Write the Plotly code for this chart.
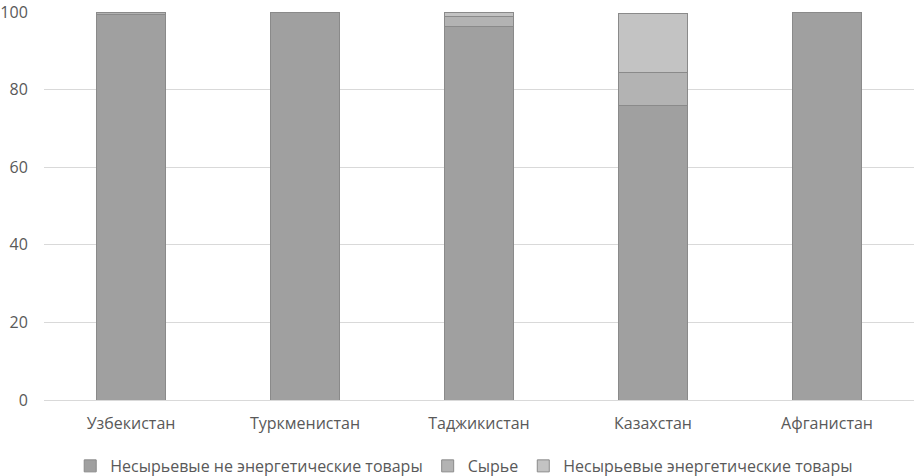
import plotly.graph_objects as go

categories = ["Узбекистан", "Туркменистан", "Таджикистан", "Казахстан", "Афганистан"]
non_energy = [99.3, 99.8, 96.3, 75.9, 99.9]
raw = [0.5, 0.1, 2.5, 8.5, 0.05]
energy = [0.2, 0.05, 1.2, 15.1, 0.05]

series = [
    ("Несырьевые не энергетические товары", non_energy, "#a0a0a0"),
    ("Сырье", raw, "#b3b3b3"),
    ("Несырьевые энергетические товары", energy, "#c3c3c3"),
]

fig = go.Figure()
for name, vals, col in series:
    fig.add_trace(go.Bar(
        x=categories, y=vals, name=name,
        marker=dict(color=col, line=dict(color="#8a8a8a", width=1)),
    ))

font = dict(family="Open Sans, Noto Sans, sans-serif", size=16, color="#595959")
fig.update_layout(
    barmode="stack",
    bargap=0.6,
    width=914, height=476,
    margin=dict(l=44, r=0, t=12, b=76, autoexpand=False),
    paper_bgcolor="white", plot_bgcolor="white",
    font=font,
    showlegend=True,
    legend=dict(orientation="h", x=0.483, xanchor="center", y=-0.17, yanchor="middle",
                font=font, itemwidth=30, traceorder="normal"),
    xaxis=dict(showgrid=False, showline=True, linecolor="#d9d9d9", linewidth=1,
               automargin=False,
               ticks="outside", ticklen=9, tickcolor="rgba(0,0,0,0)", tickfont=font),
    yaxis=dict(range=[0, 100.01], tickvals=[0, 20, 40, 60, 80, 100], showgrid=True,
               gridcolor="#d9d9d9", gridwidth=1, automargin=False,
               ticklabeloverflow="allow",
               zeroline=False, showline=False,
               ticks="outside", ticklen=12, tickcolor="rgba(0,0,0,0)", tickfont=font),
)

fig.write_html("out.html", config={"displayModeBar": False},
               post_script="document.body.style.margin='0';document.body.style.overflow='hidden';")
